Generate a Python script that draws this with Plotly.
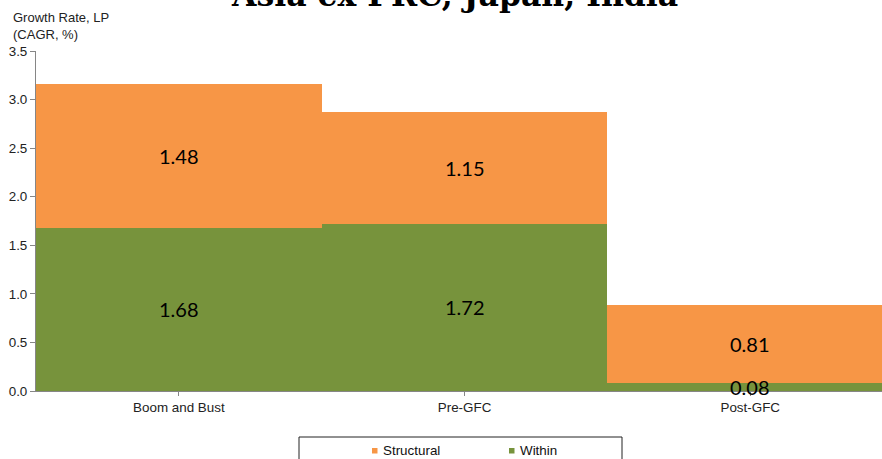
import plotly.graph_objects as go

# Growth decomposition by period
periods = ["Boom and Bust", "Pre-GFC", "Post-GFC"]
within = [1.68, 1.72, 0.08]
structural = [1.48, 1.15, 0.81]

orange = "#F79646"
green = "#77933C"
axis_grey = "#868686"

W, H = 882, 459
ML, MR, MT, MB = 36, 0, 51, 68
plot_w = W - ML - MR
plot_h = H - MT - MB
txt_size = 13.4


def px_x(px):
    return (px - ML) / plot_w


def px_y(py):
    return (H - MB - py) / plot_h


fig = go.Figure()
fig.add_trace(go.Bar(x=list(range(len(periods))), y=within, name="Within",
                     marker=dict(color=green, line=dict(width=0)), width=1.0,
                     hoverinfo="y"))
fig.add_trace(go.Bar(x=list(range(len(periods))), y=structural, name="Structural",
                     marker=dict(color=orange, line=dict(width=0)), width=1.0,
                     hoverinfo="y"))

# Value labels centred in each segment
label_font = dict(family="Lato", size=20, color="#000000")
for i, (w, s) in enumerate(zip(within, structural)):
    fig.add_annotation(x=i, y=w / 2, text=f"{w:.2f}", showarrow=False,
                       font=label_font, xref="x", yref="y")
    fig.add_annotation(x=i, y=w + s / 2, text=f"{s:.2f}", showarrow=False,
                       font=label_font, xref="x", yref="y")

# Title (partly above the page edge)
fig.add_annotation(x=px_x(454.5), y=px_y(15), xref="paper", yref="paper",
                   text="<b>Asia ex PRC, Japan, India</b>", showarrow=False,
                   xanchor="center", yanchor="bottom",
                   font=dict(family="DejaVu Serif", size=31.5, color="#000000"))

# Axis title in the top-left corner
fig.add_annotation(x=px_x(11), y=px_y(8), xref="paper", yref="paper",
                   text="Growth Rate, LP<br>(CAGR, %)", showarrow=False,
                   xanchor="left", yanchor="top", align="left",
                   font=dict(family="Liberation Sans", size=13, color="#222222"))

# Legend box
fig.add_shape(type="rect", xref="paper", yref="paper",
              x0=px_x(299), x1=px_x(622), y0=px_y(437), y1=px_y(475),
              line=dict(color="#222222", width=1), fillcolor="rgba(0,0,0,0)")
legend_items = [("Structural", orange, 372), ("Within", green, 509)]
for name, col, sx in legend_items:
    fig.add_shape(type="rect", xref="paper", yref="paper",
                  x0=px_x(sx), x1=px_x(sx + 5.5), y0=px_y(453.5), y1=px_y(448),
                  line=dict(width=0), fillcolor=col)
    fig.add_annotation(x=px_x(sx + 8.5), y=px_y(450.5), xref="paper", yref="paper",
                       text=name, showarrow=False, xanchor="left", yanchor="middle",
                       font=dict(family="Liberation Sans", size=txt_size, color="#111111"))

fig.update_layout(
    width=W, height=H,
    margin=dict(l=ML, r=MR, t=MT, b=MB, pad=0),
    barmode="stack", bargap=0,
    plot_bgcolor="white", paper_bgcolor="white",
    showlegend=False,
    font=dict(family="Liberation Sans", size=txt_size, color="#222222"),
)
fig.update_xaxes(
    range=[-0.5, -0.5 + plot_w / 285.7],
    tickmode="array", tickvals=list(range(len(periods))), ticktext=periods,
    tickson="boundaries", ticks="outside", ticklen=4, tickcolor=axis_grey,
    showline=True, linecolor=axis_grey, linewidth=1,
    showgrid=False, zeroline=False, fixedrange=True,
)
fig.update_yaxes(
    range=[0, 3.5], dtick=0.5, tickformat=".1f",
    ticks="outside", ticklen=5, tickcolor=axis_grey,
    showline=True, linecolor=axis_grey, linewidth=1,
    showgrid=False, zeroline=False, fixedrange=True,
)

fig.write_html("out.html")
